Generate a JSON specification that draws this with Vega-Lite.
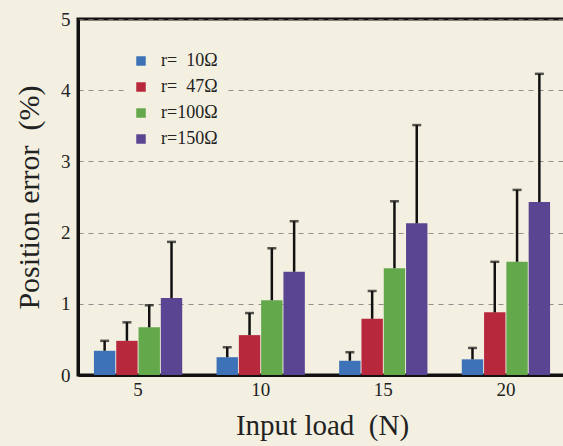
{
  "$schema": "https://vega.github.io/schema/vega-lite/v6.json",
  "width": 488,
  "height": 356,
  "autosize": {"type": "none"},
  "padding": {"left": 78, "top": 19, "right": 0, "bottom": 71},
  "background": "#f4f0e1",
  "config": {
    "font": "Liberation Serif",
    "view": {"stroke": "#111", "strokeWidth": 3},
    "axis": {"labelFont": "Liberation Serif", "titleFont": "Liberation Serif", "titleFontWeight": "normal", "labelColor": "#222", "titleColor": "#222"}
  },
  "data": {
    "values": [
      {"load": "5", "r": "r=\u00a0\u00a010Ω", "v": 0.34, "hi": 0.48},
      {"load": "5", "r": "r=\u00a0\u00a047Ω", "v": 0.48, "hi": 0.74},
      {"load": "5", "r": "r=100Ω", "v": 0.67, "hi": 0.98},
      {"load": "5", "r": "r=150Ω", "v": 1.08, "hi": 1.87},
      {"load": "10", "r": "r=\u00a0\u00a010Ω", "v": 0.25, "hi": 0.39},
      {"load": "10", "r": "r=\u00a0\u00a047Ω", "v": 0.56, "hi": 0.87},
      {"load": "10", "r": "r=100Ω", "v": 1.05, "hi": 1.78},
      {"load": "10", "r": "r=150Ω", "v": 1.45, "hi": 2.16},
      {"load": "15", "r": "r=\u00a0\u00a010Ω", "v": 0.2, "hi": 0.32},
      {"load": "15", "r": "r=\u00a0\u00a047Ω", "v": 0.79, "hi": 1.18},
      {"load": "15", "r": "r=100Ω", "v": 1.5, "hi": 2.44},
      {"load": "15", "r": "r=150Ω", "v": 2.13, "hi": 3.51},
      {"load": "20", "r": "r=\u00a0\u00a010Ω", "v": 0.22, "hi": 0.38},
      {"load": "20", "r": "r=\u00a0\u00a047Ω", "v": 0.88, "hi": 1.59},
      {"load": "20", "r": "r=100Ω", "v": 1.59, "hi": 2.6},
      {"load": "20", "r": "r=150Ω", "v": 2.43, "hi": 4.23}
    ]
  },
  "encoding": {
    "x": {
      "field": "load", "type": "ordinal", "sort": ["5", "10", "15", "20"],
      "scale": {"paddingInner": 0.28, "paddingOuter": 0.13},
      "axis": {"title": "Input load\u00a0\u00a0(N)", "titleFontSize": 29, "titlePadding": 12, "labelFontSize": 19, "labelAngle": 0, "ticks": false, "labelPadding": 5, "domainColor": "#111", "domainWidth": 3}
    },
    "xOffset": {"field": "r", "type": "nominal", "sort": ["r=\u00a0\u00a010Ω", "r=\u00a0\u00a047Ω", "r=100Ω", "r=150Ω"], "scale": {"paddingInner": 0.04, "paddingOuter": 0}}
  },
  "layer": [
    {
      "mark": {"type": "bar"},
      "encoding": {
        "y": {
          "field": "v", "type": "quantitative",
          "scale": {"domain": [0, 5], "nice": false},
          "axis": {"title": "Position error\u00a0\u00a0(%)", "titleFontSize": 30, "titlePadding": 16, "labelFontSize": 19, "format": "d", "ticks": false, "labelPadding": 8, "values": [0, 1, 2, 3, 4, 5], "grid": true, "gridDash": [5, 5], "gridColor": "#777", "gridWidth": 1, "gridOpacity": 0.8, "domainColor": "#111", "domainWidth": 3}
        },
        "color": {
          "field": "r", "type": "nominal",
          "scale": {"domain": ["r=\u00a0\u00a010Ω", "r=\u00a0\u00a047Ω", "r=100Ω", "r=150Ω"], "range": ["#3d72b8", "#b8283c", "#63a84a", "#5a4592"]},
          "legend": {"title": null, "orient": "none", "legendX": 46, "legendY": 25, "padding": 8, "fillColor": "#f4f0e1", "symbolType": "square", "symbolSize": 90, "symbolStrokeWidth": 0, "labelFontSize": 18, "labelFont": "Liberation Serif", "labelColor": "#222", "rowPadding": 8, "labelOffset": 11}
        }
      }
    },
    {
      "mark": {"type": "rule", "color": "#111", "strokeWidth": 2.5},
      "encoding": {
        "y": {"field": "v", "type": "quantitative"},
        "y2": {"field": "hi"}
      }
    },
    {
      "mark": {"type": "tick", "color": "#111", "size": 9, "thickness": 2.5, "orient": "horizontal"},
      "encoding": {
        "y": {"field": "hi", "type": "quantitative"}
      }
    }
  ]
}
